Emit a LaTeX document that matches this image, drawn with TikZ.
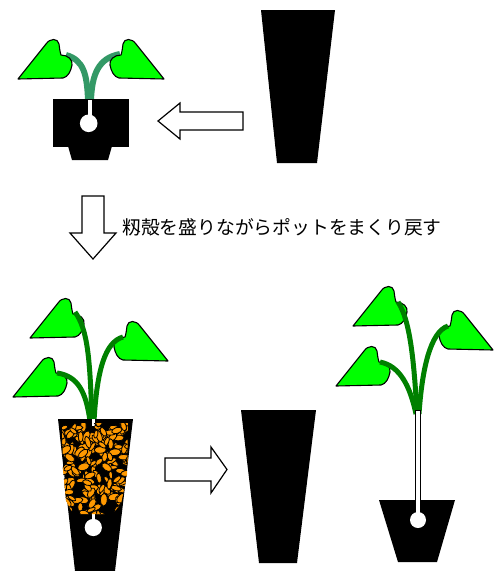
\documentclass[tikz,border=0pt]{standalone}
\usepackage{fontspec}
\newfontfamily\jpfont{Noto Sans CJK JP}
\definecolor{leafgreen}{HTML}{00FF00}
\definecolor{stemsea}{HTML}{339966}
\definecolor{stemgreen}{HTML}{008000}
\definecolor{huskorange}{HTML}{FF9900}
\begin{document}
\begin{tikzpicture}[x=1pt,y=-1pt,
  leafshape/.style={fill=leafgreen, draw=black, line width=1.1pt, line join=round},
  youngstem/.style={draw=stemsea, line width=6pt},
  grownstem/.style={draw=stemgreen, line width=5pt},
  potbody/.style={fill=black},
  rootball/.style={fill=white},
  blockarrow/.style={fill=white, draw=black, line width=1.2pt, line join=miter},
  husk/.style={fill=huskorange, draw=black, line width=0.8pt},
  leafL/.pic={\path[leafshape] (0,0) -- (28,-35) .. controls (32,-41) and (40,-41) .. (41,-35)
      .. controls (41.5,-31) and (42,-27) .. (43,-24)
      .. controls (50,-24) and (55,-19) .. (54,-14)
      .. controls (53,-8) and (50,-2) .. (45,-1) -- cycle;},
]
\useasboundingbox (0,0) rectangle (494,571);

% ---------- seedling in the small pot ----------
\draw[youngstem] (88,100) .. controls (87,75) and (84,60) .. (66,55);
\draw[youngstem] (91,100) .. controls (92,75) and (98,58) .. (120,54);
\pic at (18,79) {leafL};
\pic[xscale=-1] at (164,79) {leafL};
\fill[potbody] (53,99) rectangle (129,147);
\fill[potbody] (68,146) -- (112,146) -- (108,160) -- (72,160) -- cycle;
\fill[rootball] (88,100) rectangle (92,118);
\fill[rootball] (88.7,123.3) circle [radius=8.8];

% ---------- empty tall pot ----------
\fill[potbody] (261,10) -- (335,10) -- (317,163) -- (277,163) -- cycle;

% ---------- arrow to the left ----------
\draw[blockarrow] (243,112) -- (180,112) -- (180,103) -- (158,121) -- (180,139)
  -- (180,130) -- (243,130) -- cycle;

% ---------- arrow down and caption ----------
\draw[blockarrow] (82,196) -- (104,196) -- (104,233) -- (116,233) -- (93,259)
  -- (70,233) -- (82,233) -- cycle;
\node[anchor=west, inner sep=0pt, font=\jpfont\fontsize{18.8}{20}\selectfont]
  (caption) at (122,227) {籾殻を盛りながらポットをまくり戻す};

% ---------- plant in the tall pot filled with husks ----------
\pic at (30,338) {leafL};
\pic[xscale=-1] at (168,361) {leafL};
\pic at (13,397) {leafL};
\draw[grownstem] (92,421) .. controls (90,360) and (88,330) .. (75,312);
\draw[grownstem] (94,421) .. controls (97,370) and (105,342) .. (123,337);
\draw[grownstem] (90,421) .. controls (86,392) and (78,376) .. (57,373);
\fill[potbody] (58,419) -- (133,419) -- (115,571) -- (75,571) -- cycle;
\fill[rootball] (91.5,419) rectangle (95,426);
\fill[rootball] (91.8,510) rectangle (94.8,520);
\fill[rootball] (93.3,527.5) circle [radius=8.6];
\begin{scope}
  \clip (62,423) -- (128,423) -- (127,475) -- (121,504) -- (112,514) -- (73,514)
    -- (66,500) -- (63,470) -- cycle;
  \pgfmathsetseed{7}
  \foreach \k in {1,...,190}{
    \pgfmathsetmacro\hx{60+70*rnd}
    \pgfmathsetmacro\hy{421+95*rnd}
    \pgfmathsetmacro\ha{180*rnd}
    \pgfmathsetmacro\hr{4+2.4*rnd}
    \pgfmathsetmacro\hs{\hr*(0.4+0.2*rnd)}
    \draw[husk, rotate around={\ha:(\hx,\hy)}] (\hx,\hy) ellipse [x radius=\hr, y radius=\hs];
  }
\end{scope}

% ---------- arrow to the right ----------
\draw[blockarrow] (165,458) -- (211,458) -- (211,447) -- (227,469.5) -- (211,493)
  -- (211,481) -- (165,481) -- cycle;

% ---------- tall pot lifted off ----------
\fill[potbody] (241,410) -- (316,410) -- (297,563) -- (259,563) -- cycle;

% ---------- plant set into the small pot ----------
\pic at (353,326) {leafL};
\pic[xscale=-1] at (493,350) {leafL};
\pic at (336,386) {leafL};
\draw[grownstem] (417,414) .. controls (414,360) and (410,320) .. (398,302);
\draw[grownstem] (419,414) .. controls (422,370) and (430,332) .. (448,326);
\draw[grownstem] (416,414) .. controls (410,386) and (400,366) .. (380,362);
\draw[fill=white, draw=black, line width=1pt] (415,410) rectangle (420.5,512);
\fill[potbody] (379,500) -- (455,500) -- (437,562) -- (398,562) -- cycle;
\fill[rootball] (415.8,499) rectangle (419.8,514);
\fill[rootball] (418,520) circle [radius=8];
\end{tikzpicture}
\end{document}
